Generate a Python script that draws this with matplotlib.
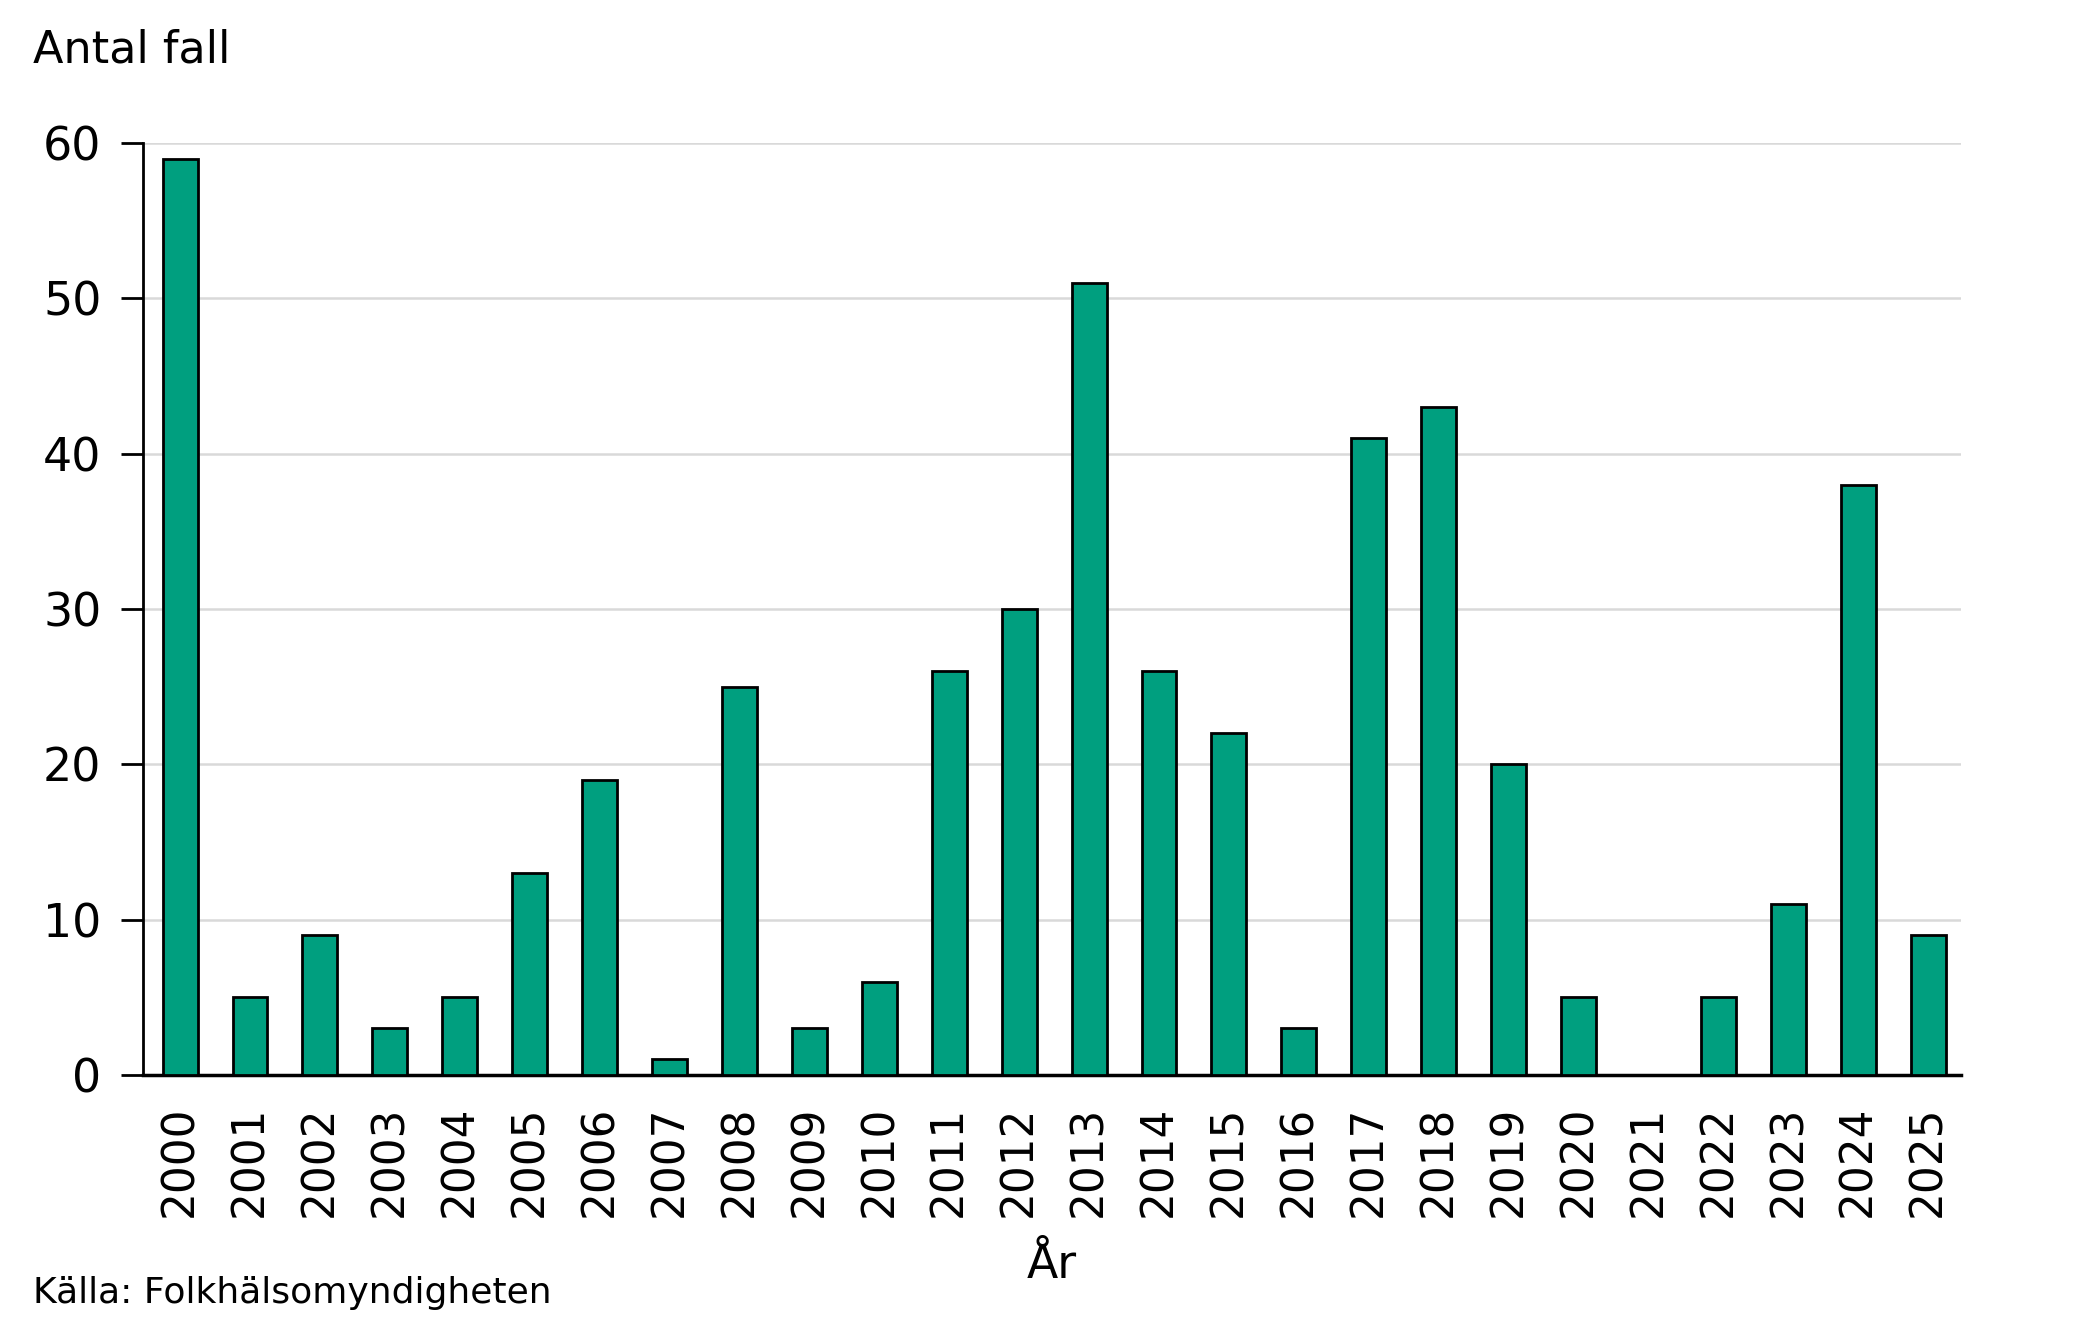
import matplotlib
matplotlib.use("Agg")
from matplotlib import pyplot as plt

years = [str(y) for y in range(2000, 2026)]
cases = [59, 5, 9, 3, 5, 13, 19, 1, 25, 3, 6, 26, 30, 51, 26, 22, 3, 41, 43, 20, 5, 0, 5, 11, 38, 9]
yticks = [0, 10, 20, 30, 40, 50, 60]

plt.rcParams['font.family'] = ['DejaVu Sans']

fig = plt.figure(figsize=(20.79, 13.22), dpi=100)
ax = fig.add_axes([143 / 2079, 1 - 1075 / 1322, (1961 - 143) / 2079, (1075 - 143) / 1322])

x = range(len(years))
ax.bar(x, cases, width=0.5, color='#009F7F', edgecolor='black', linewidth=2, zorder=3)

ax.set_xlim(-0.53, 25.47)
ax.set_ylim(0, 60)
ax.set_yticks(yticks)
ax.set_yticklabels([str(v) for v in yticks], fontsize=33)
ax.set_xticks(list(x))
ax.set_xticklabels(years, rotation=90, fontsize=31.5)
ax.tick_params(axis='x', length=0, pad=22)
ax.tick_params(axis='y', length=16, width=2, pad=14)

ax.grid(axis='y', color='#d9d9d9', linewidth=1.8, zorder=0)
for s in ['top', 'right']:
    ax.spines[s].set_visible(False)
ax.spines['left'].set_linewidth(2)
ax.spines['bottom'].set_linewidth(2.5)

fig.text(33 / 2079, 1 - 50 / 1322, 'Antal fall', fontsize=32, va='center', ha='left')
fig.text(1052 / 2079, 1 - 1266 / 1322, 'År', fontsize=33, va='center', ha='center')
fig.text(33 / 2079, 1 - 1293 / 1322, 'Källa: Folkhälsomyndigheten', fontsize=26, va='center', ha='left')

plt.savefig("out.png", dpi=100)
